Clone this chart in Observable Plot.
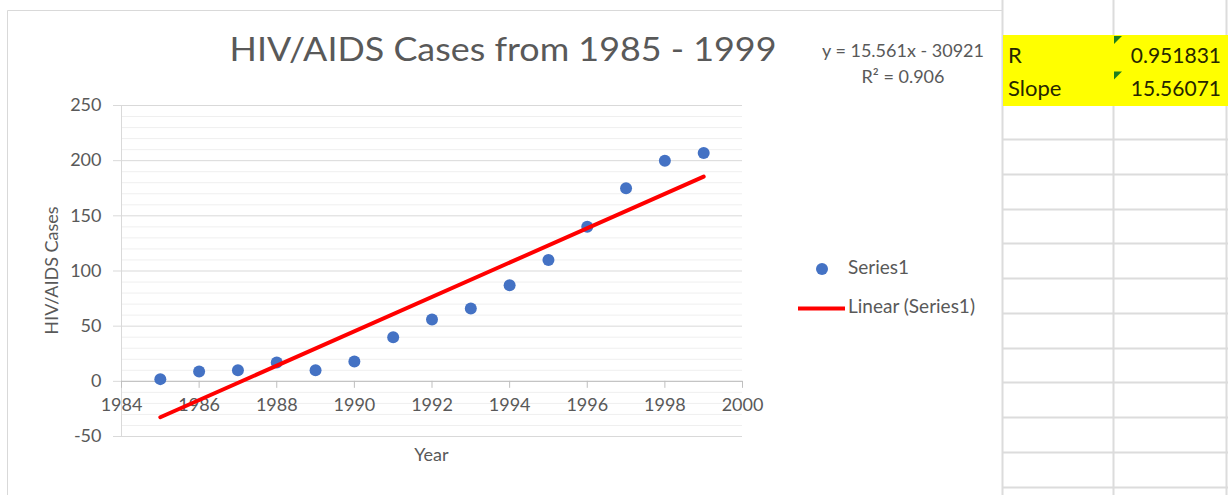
<!DOCTYPE html>
<html><head><meta charset="utf-8">
<script src="https://cdn.jsdelivr.net/npm/d3@7"></script>
<script src="https://cdn.jsdelivr.net/npm/@observablehq/plot@0.6"></script>
<style>
body{margin:0;background:#fff;}
#wrap{position:relative;width:1228px;height:495px;overflow:hidden;}
</style></head><body><div id="wrap"></div>
<script>
// ---- data ----
const years = [1985,1986,1987,1988,1989,1990,1991,1992,1993,1994,1995,1996,1997,1998,1999];
const cases = [2,9,10,17,10,18,40,56,66,87,110,140,175,200,207];
const xTicks = [1984,1986,1988,1990,1992,1994,1996,1998,2000];
const yMajor = [-50,0,50,100,150,200,250];
const yMinor = [-40,-30,-20,-10,10,20,30,40,60,70,80,90,110,120,130,140,160,170,180,190,210,220,230,240];
const titleText = "HIV/AIDS Cases from 1985 - 1999";
const xTitle = "Year";
const yTitle = "HIV/AIDS Cases";
const eqLines = ["y = 15.561x - 30921", "R² = 0.906"];
const legendLabels = ["Series1", "Linear (Series1)"];
const cellLabels = ["R", "Slope"];
const cellValues = ["0.951831", "15.56071"];

const data = years.map((y, i) => ({year: y, cases: cases[i]}));
const W = 1228, H = 495, mL = 121, mR = 486, mT = 105, mB = 59;
const FONT = "Lato, 'Open Sans', sans-serif";
const GRAY = "#595959";
const y0off = d3.scaleLinear([-50, 250], [H - mB, mT])(0) - (H - mB);

const chart = Plot.plot({
  width: W, height: H,
  marginLeft: mL, marginRight: mR, marginTop: mT, marginBottom: mB,
  x: {domain: [1984, 2000]},
  y: {domain: [-50, 250]},
  style: {fontFamily: FONT, fontSize: "18px", color: GRAY, background: "transparent", overflow: "visible"},
  marks: [
    Plot.gridY(yMinor, {stroke: "#efefef", strokeOpacity: 1}),
    Plot.gridY(yMajor, {stroke: "#d9d9d9", strokeOpacity: 1}),
    Plot.axisY(yMajor, {tickSize: 8, tickPadding: 12, stroke: "#d9d9d9", fill: GRAY, tickFormat: d => String(d), label: null}),
    Plot.ruleX([1984], {stroke: "#d9d9d9"}),
    Plot.ruleY([0], {stroke: "#bfbfbf"}),
    Plot.axisX(xTicks, {anchor: "bottom", dy: y0off, tickSize: 7, tickPadding: 10, stroke: "#bfbfbf", fill: GRAY, tickFormat: d => String(d), label: null}),
    Plot.dot(data, {x: "year", y: "cases", r: 6, fill: "#4472C4"}),
    Plot.linearRegressionY(data, {x: "year", y: "cases", stroke: "#ff0000", strokeWidth: 4, ci: 0, strokeLinecap: "round"})
  ]
});
document.getElementById("wrap").appendChild(chart);

const svg = d3.select(chart);
const over = svg.append("g").attr("font-family", FONT).attr("text-anchor", "start");

// chart frame border
over.append("path").attr("d", "M7.5,495V10.5H1002").attr("fill", "none").attr("stroke", "#d9d9d9");

// title
over.append("text").attr("x", 503).attr("y", 61).attr("text-anchor", "middle")
  .attr("font-size", 33).attr("textLength", 547).attr("lengthAdjust", "spacingAndGlyphs")
  .attr("fill", GRAY).text(titleText);

// axis titles
over.append("text").attr("x", 431.5).attr("y", 461).attr("text-anchor", "middle")
  .attr("font-size", 18).attr("fill", GRAY).text(xTitle);
over.append("text").attr("transform", "translate(58,270.5) rotate(-90)").attr("text-anchor", "middle")
  .attr("font-size", 18).attr("fill", GRAY).text(yTitle);

// equation
over.selectAll("text.eq").data(eqLines).join("text").attr("class", "eq")
  .attr("x", 903).attr("y", (d, i) => i === 0 ? 57 : 83).attr("text-anchor", "middle")
  .attr("font-size", 18).attr("fill", GRAY).text(d => d);

// legend
over.append("circle").attr("cx", 822).attr("cy", 269).attr("r", 6).attr("fill", "#4472C4");
over.append("line").attr("x1", 798).attr("x2", 845).attr("y1", 308.5).attr("y2", 308.5)
  .attr("stroke", "#ff0000").attr("stroke-width", 4);
over.selectAll("text.leg").data(legendLabels).join("text").attr("class", "leg")
  .attr("x", 848).attr("y", (d, i) => i === 0 ? 274 : 313).attr("text-anchor", "start")
  .attr("font-size", 19).attr("fill", GRAY).text(d => d);

// spreadsheet cells
const sheet = over.append("g");
d3.range(139, 495, 34.75).forEach(y => {
  sheet.append("line").attr("x1", 1003).attr("x2", 1228).attr("y1", Math.round(y) + 0.5).attr("y2", Math.round(y) + 0.5)
    .attr("stroke", "#dcdcdc").attr("stroke-width", 2);
});
[1002.5, 1113.5, 1226.5].forEach(x => {
  sheet.append("line").attr("x1", x).attr("x2", x).attr("y1", 0).attr("y2", 495)
    .attr("stroke", "#dcdcdc").attr("stroke-width", 2);
});
sheet.append("rect").attr("x", 1003).attr("y", 35).attr("width", 225).attr("height", 71).attr("fill", "#ffff00");
cellLabels.forEach((lab, i) => {
  const base = i === 0 ? 63 : 96;
  const top = 35 + i * 35.5;
  sheet.append("polygon").attr("points", `1114,${top + 1} 1122,${top + 1} 1114,${top + 9}`).attr("fill", "#1e7e1e");
  sheet.append("text").attr("x", 1008).attr("y", base).attr("text-anchor", "start").attr("font-size", 22).attr("fill", "#262600").text(lab);
  sheet.append("text").attr("x", 1221).attr("y", base).attr("text-anchor", "end").attr("font-size", 21).attr("fill", "#262600").text(cellValues[i]);
});
</script></body></html>
